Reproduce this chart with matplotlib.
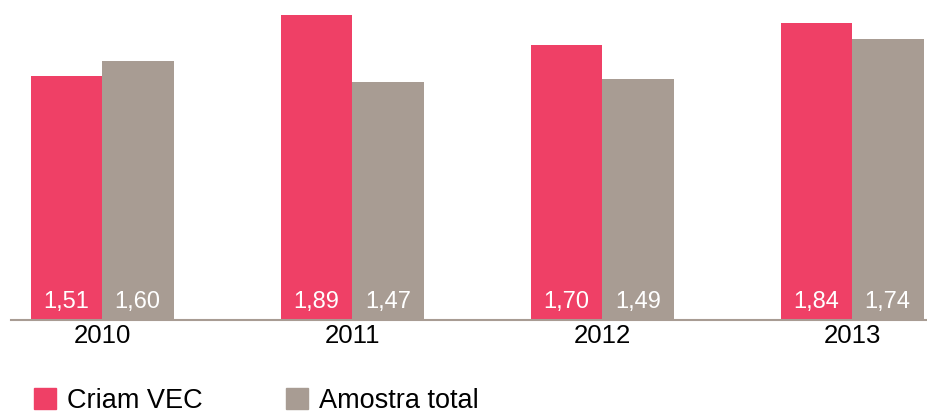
import numpy as np
import matplotlib
matplotlib.use('Agg')
import matplotlib.pyplot as plt
from matplotlib.patches import Patch

anos = ['2010', '2011', '2012', '2013']
criam_vec = [1.51, 1.89, 1.70, 1.84]
amostra_total = [1.60, 1.47, 1.49, 1.74]

cor_rosa = '#EF4066'
cor_cinza = '#A89C93'

plt.rcParams['font.family'] = ['Liberation Sans', 'DejaVu Sans']

fig = plt.figure(figsize=(9.27, 4.12), dpi=100)
ax = fig.add_axes([11 / 927, 92 / 412, 916 / 927, 320 / 412])

x = np.arange(len(anos))
largura = 0.286

barras1 = ax.bar(x - largura / 2, criam_vec, largura, color=cor_rosa, label='Criam VEC')
barras2 = ax.bar(x + largura / 2, amostra_total, largura, color=cor_cinza, label='Amostra total')

# rotulos dos valores dentro das barras, perto da base
for barras in (barras1, barras2):
    for b in barras:
        ax.text(b.get_x() + b.get_width() / 2, 0.11, f'{b.get_height():.2f}'.replace('.', ','),
                ha='center', va='center', color='white', fontsize=17)

ax.set_xlim(-0.364, 3.3)
ax.set_ylim(0, 1.98)
ax.set_xticks(x)
ax.set_xticklabels(anos, fontsize=18.5)
ax.tick_params(axis='x', length=0, pad=3)
ax.set_yticks([])

for lado in ['top', 'right', 'left']:
    ax.spines[lado].set_visible(False)
ax.spines['bottom'].set_color(cor_cinza)
ax.spines['bottom'].set_linewidth(1.5)

handles = [Patch(color=cor_rosa, label='Criam VEC'), Patch(color=cor_cinza, label='Amostra total')]
fig.legend(handles=handles, loc='lower left', bbox_to_anchor=(10 / 927, -26 / 412), ncol=2,
           frameon=False, fontsize=19.5, handlelength=0.81, handleheight=0.81,
           handletextpad=0.4, columnspacing=3.07)

fig.savefig('out.png', dpi=100)
